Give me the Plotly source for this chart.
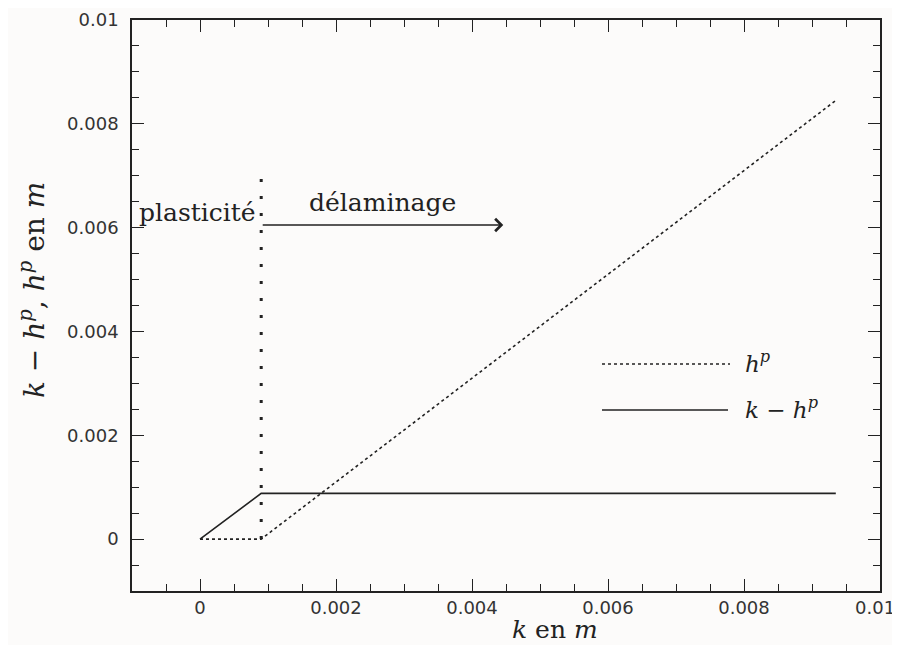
import plotly.graph_objects as go

# Data
k_vals = [0.0, 0.0009, 0.00935]
hp_vals = [0.0, 0.0, 0.00845]
k_minus_hp_vals = [0.0, 0.00088, 0.00088]
k_limit = 0.0009
k_limit_top = 0.0070
arrow_y = 0.00605
arrow_end = 0.00446
x_tickvals = [0, 0.002, 0.004, 0.006, 0.008]
x_ticktext = ["0", "0.002", "0.004", "0.006", "0.008"]
x_last_tick = 0.01
x_last_label = "0.01"
y_tickvals = [0, 0.002, 0.004, 0.006, 0.008, 0.01]
y_ticktext = ["0", "0.002", "0.004", "0.006", "0.008", "0.01"]

ink = "#222222"
serif = "DejaVu Serif"
sans = "DejaVu Sans"

# page offset (browser body margin) and figure size
OFF = 8
FW, FH = 900 - OFF, 645 - OFF
# plot-area edges in page pixels
L, R, T, B = 132, 880, 20, 591
W, H = R - L, B - T


def px(xp):
    return (xp - L) / W


def py(yp):
    return (B - yp) / H


fig = go.Figure()
fig.add_trace(go.Scatter(x=k_vals, y=hp_vals, mode="lines",
                         line=dict(color=ink, width=1.6, dash="dot"), showlegend=False))
fig.add_trace(go.Scatter(x=k_vals, y=k_minus_hp_vals, mode="lines",
                         line=dict(color=ink, width=1.6), showlegend=False))
# vertical boundary
fig.add_trace(go.Scatter(x=[k_limit, k_limit], y=[0, k_limit_top], mode="lines",
                         line=dict(color=ink, width=3, dash="3px,14px"), showlegend=False))

# arrow
fig.add_annotation(x=arrow_end, y=arrow_y, ax=k_limit, ay=arrow_y, xref="x", yref="y",
                   axref="x", ayref="y", showarrow=True, arrowhead=4, arrowsize=1.6,
                   arrowwidth=1.5, arrowcolor=ink, text="")
fig.add_annotation(x=0.00086, y=0.0063, xref="x", yref="y", text="plasticité",
                   showarrow=False, xanchor="right", yanchor="middle",
                   font=dict(family=serif, size=25, color=ink))
fig.add_annotation(x=0.00268, y=0.00648, xref="x", yref="y", text="délaminage",
                   showarrow=False, xanchor="center", yanchor="middle",
                   font=dict(family=serif, size=25, color=ink))

# legend (drawn manually)
fig.add_shape(type="line", xref="paper", yref="paper", x0=px(602), x1=px(730),
              y0=py(364), y1=py(364), line=dict(color=ink, width=1.6, dash="dot"))
fig.add_shape(type="line", xref="paper", yref="paper", x0=px(602), x1=px(728),
              y0=py(410), y1=py(410), line=dict(color=ink, width=1.6))
fig.add_annotation(x=px(743), y=py(362), xref="paper", yref="paper",
                   text="<i>h</i><sup><i>p</i></sup>", showarrow=False,
                   xanchor="left", yanchor="middle",
                   font=dict(family=serif, size=23, color=ink))
fig.add_annotation(x=px(743), y=py(408), xref="paper", yref="paper",
                   text="<i>k</i> − <i>h</i><sup><i>p</i></sup>", showarrow=False,
                   xanchor="left", yanchor="middle",
                   font=dict(family=serif, size=23, color=ink))

# last x tick label, kept inside the page edge
fig.add_annotation(x=px(896), y=py(607), xref="paper", yref="paper",
                   text=x_last_label, showarrow=False, xanchor="right", yanchor="middle",
                   borderpad=0, font=dict(family=sans, size=18, color="#333333"))

# axis titles
fig.add_annotation(x=px(555), y=py(629), xref="paper", yref="paper",
                   text="<i>k</i> en <i>m</i>", showarrow=False,
                   xanchor="center", yanchor="middle", borderpad=0,
                   font=dict(family=serif, size=25, color=ink))
fig.add_annotation(x=px(32), y=py(290), xref="paper", yref="paper",
                   text="<i>k</i> − <i>h</i><sup><i>p</i></sup>, <i>h</i><sup><i>p</i></sup> en <i>m</i>",
                   showarrow=False, textangle=-90, xanchor="center", yanchor="middle",
                   font=dict(family=serif, size=28, color=ink))

axis_common = dict(showline=True, linecolor=ink, linewidth=1.5, mirror="ticks",
                   ticks="inside", ticklen=12, tickwidth=1.3, tickcolor=ink,
                   showgrid=False, zeroline=False, automargin=False,
                   ticklabeloverflow="allow",
                   tickfont=dict(family=sans, size=18, color="#333333"),
                   minor=dict(ticks="inside", dtick=0.0005, ticklen=7, tickwidth=1.2,
                              tickcolor=ink, showgrid=False))

fig.update_xaxes(range=[-0.001, 0.01], tickvals=x_tickvals + [x_last_tick],
                 ticktext=x_ticktext + [""], ticklabelstandoff=0, **axis_common)
fig.update_yaxes(range=[-0.001, 0.01], tickvals=y_tickvals, ticktext=y_ticktext,
                 ticklabelstandoff=8, **axis_common)

fig.update_layout(width=FW, height=FH,
                  margin=dict(l=L - OFF, r=FW - (R - OFF), t=T - OFF, b=FH - (B - OFF)),
                  paper_bgcolor="#fcfbfa", plot_bgcolor="#fcfbfa",
                  showlegend=False)

fig.write_html("out.html")
